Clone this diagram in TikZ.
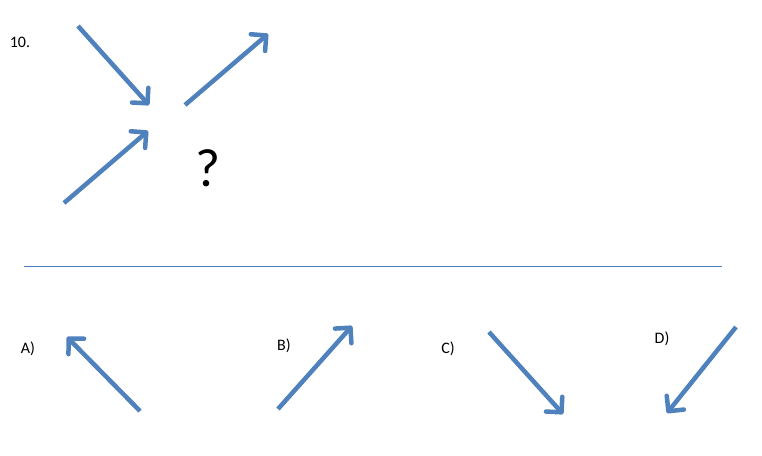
\documentclass[tikz,border=0pt]{standalone}
\usepackage{fontspec}
\setmainfont{Carlito}
\usetikzlibrary{arrows.meta}
\definecolor{officeblue}{HTML}{4F81BD}
\definecolor{linecol}{HTML}{4A7EBB}
\begin{document}
\begin{tikzpicture}[x=1pt,y=-1pt,
  arr/.style={draw=officeblue,line width=4.5pt,-{Straight Barb[length=11pt,width=22pt,round]}},
  lbl/.style={font=\fontsize{16}{18}\selectfont,inner sep=0pt}]
\useasboundingbox (0,0) rectangle (762,455);
\fill[white] (0,0) rectangle (762,455);
\node[lbl] (num) at (20,42) {10.};
\coordinate (a1s) at (78,26); \coordinate (a1e) at (149,105);
\coordinate (a2s) at (185,105); \coordinate (a2e) at (268,34);
\coordinate (a3s) at (64,203); \coordinate (a3e) at (148,131);
\draw[arr] (a1s) -- (a1e);
\draw[arr] (a2s) -- (a2e);
\draw[arr] (a3s) -- (a3e);
\node[inner sep=0pt,font=\fontsize{54}{60}\selectfont] (q) at (208,168) {?};
\coordinate (sl) at (24,266); \coordinate (sr) at (722,266);
\draw[linecol,line width=0.9pt] (sl) -- (sr);
\node[lbl] (la) at (28,349) {A)};
\node[lbl] (lb) at (284,346) {B)};
\node[lbl] (lc) at (448,349) {C)};
\node[lbl] (ld) at (662,339) {D)};
\coordinate (as) at (140,411); \coordinate (ae) at (67,337);
\coordinate (bs) at (278,409); \coordinate (be) at (352,326);
\coordinate (cs) at (489,332); \coordinate (ce) at (563,414);
\coordinate (ds) at (736,327); \coordinate (de) at (667,413);
\draw[arr] (as) -- (ae);
\draw[arr] (bs) -- (be);
\draw[arr] (cs) -- (ce);
\draw[arr] (ds) -- (de);
\end{tikzpicture}
\end{document}
